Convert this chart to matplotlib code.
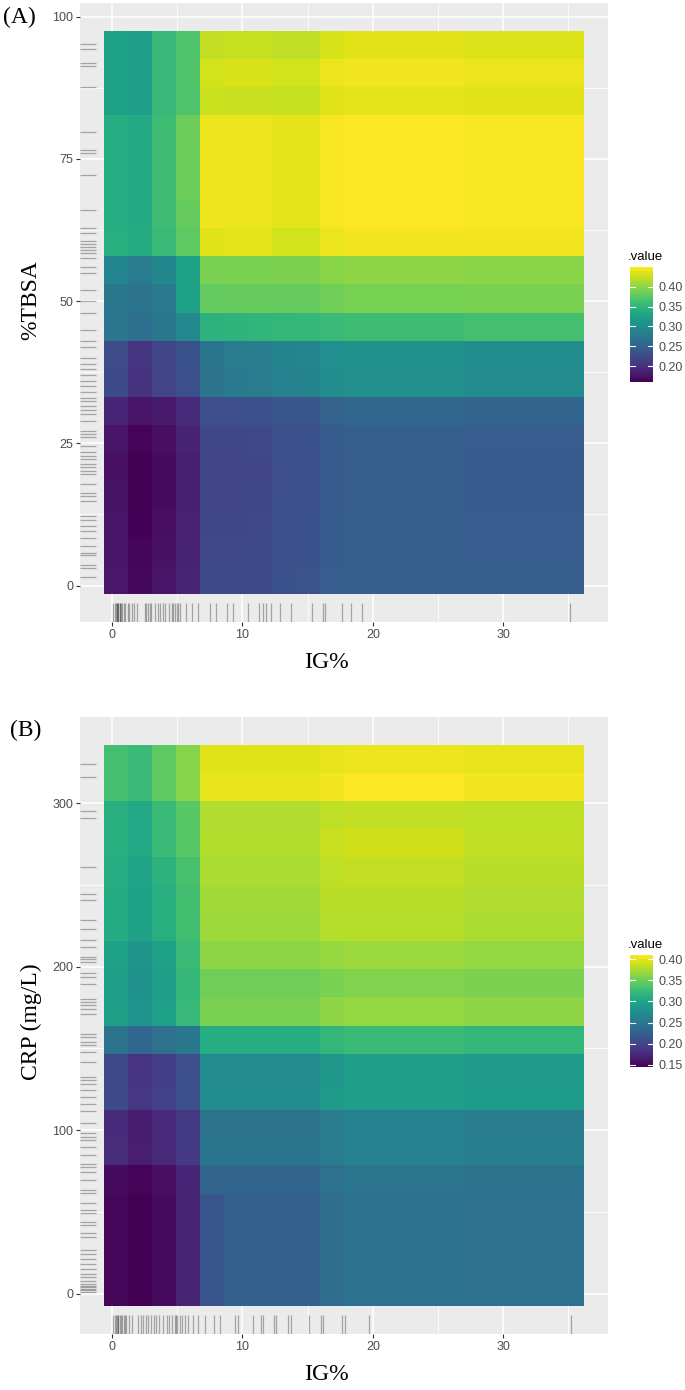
import numpy as np
import matplotlib
matplotlib.use("Agg")
import matplotlib.pyplot as plt
from matplotlib.colors import Normalize
import matplotlib.colorbar as mcolorbar

# ---------------- data ----------------
ig_grid = [0.31, 2.15, 3.99, 5.83, 7.67, 9.51, 11.35, 13.19, 15.03, 16.87,
           18.71, 20.55, 22.39, 24.23, 26.07, 27.91, 29.75, 31.59, 33.43, 35.27]
tbsa_grid = [1.0, 5.9, 10.9, 15.8, 20.8, 25.7, 30.7, 35.6, 40.6, 45.5,
             50.5, 55.4, 60.4, 65.3, 70.3, 75.2, 80.2, 85.1, 90.1, 95.0]
crp_grid = [1, 18, 35, 52, 70, 87, 104, 121, 138, 155,
            173, 190, 207, 224, 241, 258, 276, 293, 310, 327]

# partial dependence values, rows = tbsa_grid (bottom -> top), cols = ig_grid
value_A = [
    [0.177,0.166,0.175,0.189,0.224,0.224,0.225,0.232,0.233,0.244,0.247,0.247,0.247,0.247,0.247,0.245,0.245,0.245,0.245,0.245],
    [0.176,0.164,0.173,0.188,0.223,0.223,0.224,0.231,0.232,0.243,0.246,0.246,0.246,0.246,0.246,0.244,0.244,0.244,0.244,0.244],
    [0.175,0.162,0.171,0.187,0.222,0.222,0.223,0.231,0.232,0.243,0.246,0.246,0.246,0.246,0.246,0.244,0.244,0.244,0.244,0.244],
    [0.174,0.160,0.169,0.186,0.221,0.221,0.222,0.230,0.231,0.242,0.245,0.245,0.245,0.245,0.245,0.243,0.243,0.243,0.243,0.243],
    [0.172,0.160,0.168,0.186,0.220,0.220,0.221,0.230,0.231,0.242,0.245,0.245,0.245,0.245,0.245,0.243,0.243,0.243,0.243,0.243],
    [0.176,0.163,0.171,0.188,0.222,0.222,0.223,0.231,0.232,0.243,0.246,0.246,0.246,0.246,0.246,0.244,0.244,0.244,0.244,0.244],
    [0.190,0.175,0.180,0.195,0.230,0.230,0.231,0.236,0.238,0.250,0.256,0.256,0.256,0.256,0.256,0.253,0.253,0.253,0.253,0.253],
    [0.224,0.203,0.218,0.230,0.270,0.278,0.279,0.289,0.290,0.302,0.305,0.305,0.305,0.305,0.305,0.300,0.300,0.300,0.300,0.300],
    [0.226,0.205,0.219,0.232,0.272,0.279,0.280,0.290,0.291,0.303,0.306,0.306,0.306,0.306,0.306,0.301,0.301,0.301,0.301,0.301],
    [0.273,0.264,0.276,0.296,0.346,0.347,0.350,0.352,0.353,0.357,0.360,0.360,0.360,0.360,0.360,0.363,0.363,0.363,0.363,0.363],
    [0.276,0.270,0.278,0.325,0.380,0.381,0.381,0.382,0.382,0.386,0.390,0.390,0.390,0.390,0.390,0.392,0.392,0.392,0.392,0.392],
    [0.293,0.279,0.294,0.325,0.392,0.392,0.392,0.393,0.393,0.398,0.401,0.401,0.401,0.401,0.401,0.398,0.398,0.398,0.398,0.398],
    [0.343,0.337,0.357,0.378,0.436,0.438,0.438,0.430,0.430,0.441,0.445,0.445,0.445,0.445,0.445,0.445,0.445,0.445,0.445,0.445],
    [0.340,0.335,0.360,0.382,0.443,0.442,0.442,0.438,0.438,0.447,0.450,0.450,0.450,0.450,0.450,0.447,0.447,0.447,0.447,0.447],
    [0.340,0.335,0.360,0.385,0.443,0.442,0.442,0.438,0.438,0.447,0.450,0.450,0.450,0.450,0.450,0.447,0.447,0.447,0.447,0.447],
    [0.340,0.335,0.360,0.385,0.443,0.442,0.442,0.438,0.438,0.447,0.450,0.450,0.450,0.450,0.450,0.447,0.447,0.447,0.447,0.447],
    [0.340,0.335,0.360,0.385,0.442,0.442,0.442,0.438,0.438,0.447,0.450,0.450,0.450,0.450,0.450,0.447,0.447,0.447,0.447,0.447],
    [0.325,0.320,0.354,0.369,0.427,0.426,0.426,0.424,0.424,0.436,0.438,0.438,0.438,0.438,0.438,0.437,0.437,0.437,0.437,0.437],
    [0.325,0.320,0.354,0.370,0.430,0.432,0.432,0.430,0.430,0.441,0.444,0.444,0.444,0.444,0.444,0.441,0.441,0.441,0.441,0.441],
    [0.325,0.320,0.354,0.370,0.423,0.425,0.425,0.422,0.422,0.433,0.437,0.437,0.437,0.437,0.437,0.435,0.435,0.435,0.435,0.435],
]

# rows = crp_grid (bottom -> top), cols = ig_grid
value_B = [
    [0.150,0.145,0.153,0.171,0.214,0.225,0.225,0.225,0.225,0.238,0.245,0.245,0.245,0.245,0.245,0.243,0.243,0.243,0.243,0.243],
    [0.150,0.145,0.153,0.171,0.214,0.225,0.225,0.225,0.225,0.238,0.245,0.245,0.245,0.245,0.245,0.243,0.243,0.243,0.243,0.243],
    [0.150,0.145,0.153,0.171,0.214,0.225,0.225,0.225,0.225,0.238,0.245,0.245,0.245,0.245,0.245,0.243,0.243,0.243,0.243,0.243],
    [0.150,0.145,0.153,0.171,0.214,0.225,0.225,0.225,0.225,0.238,0.245,0.245,0.245,0.245,0.245,0.243,0.243,0.243,0.243,0.243],
    [0.153,0.148,0.155,0.172,0.230,0.230,0.230,0.230,0.230,0.243,0.248,0.248,0.248,0.248,0.248,0.246,0.246,0.246,0.246,0.246],
    [0.178,0.167,0.175,0.190,0.247,0.247,0.247,0.247,0.247,0.255,0.260,0.260,0.260,0.260,0.260,0.257,0.257,0.257,0.257,0.257],
    [0.177,0.166,0.174,0.190,0.246,0.246,0.246,0.246,0.246,0.254,0.259,0.259,0.259,0.259,0.259,0.256,0.256,0.256,0.256,0.256],
    [0.205,0.187,0.195,0.210,0.275,0.275,0.275,0.275,0.275,0.288,0.292,0.292,0.292,0.292,0.292,0.289,0.289,0.289,0.289,0.289],
    [0.203,0.185,0.193,0.209,0.272,0.272,0.272,0.272,0.272,0.286,0.291,0.291,0.291,0.291,0.291,0.288,0.288,0.288,0.288,0.288],
    [0.246,0.232,0.243,0.251,0.309,0.309,0.309,0.309,0.309,0.320,0.325,0.325,0.325,0.325,0.325,0.320,0.320,0.320,0.320,0.320],
    [0.294,0.282,0.295,0.323,0.357,0.357,0.357,0.357,0.357,0.365,0.367,0.367,0.367,0.367,0.367,0.365,0.365,0.365,0.365,0.365],
    [0.292,0.280,0.293,0.322,0.352,0.352,0.352,0.352,0.352,0.357,0.360,0.360,0.360,0.360,0.360,0.358,0.358,0.358,0.358,0.358],
    [0.296,0.283,0.296,0.325,0.365,0.365,0.365,0.365,0.365,0.368,0.370,0.370,0.370,0.370,0.370,0.367,0.367,0.367,0.367,0.367],
    [0.308,0.297,0.312,0.330,0.371,0.371,0.371,0.371,0.371,0.380,0.380,0.380,0.380,0.380,0.380,0.376,0.376,0.376,0.376,0.376],
    [0.308,0.297,0.312,0.330,0.373,0.373,0.373,0.373,0.373,0.383,0.383,0.383,0.383,0.383,0.383,0.378,0.378,0.378,0.378,0.378],
    [0.310,0.299,0.315,0.333,0.376,0.376,0.376,0.376,0.376,0.384,0.386,0.386,0.386,0.386,0.386,0.383,0.383,0.383,0.383,0.383],
    [0.312,0.304,0.325,0.341,0.379,0.379,0.379,0.379,0.379,0.388,0.391,0.391,0.391,0.391,0.391,0.385,0.385,0.385,0.385,0.385],
    [0.312,0.304,0.325,0.341,0.378,0.378,0.378,0.378,0.378,0.384,0.386,0.386,0.386,0.386,0.386,0.384,0.384,0.384,0.384,0.384],
    [0.331,0.325,0.344,0.362,0.400,0.400,0.400,0.400,0.400,0.405,0.410,0.410,0.410,0.410,0.410,0.405,0.405,0.405,0.405,0.405],
    [0.331,0.325,0.344,0.362,0.397,0.397,0.397,0.397,0.397,0.400,0.402,0.402,0.402,0.402,0.402,0.400,0.400,0.400,0.400,0.400],
]

# rug (training data) values
ig_rug_A = [0.1,0.2,0.3,0.4,0.4,0.5,0.5,0.6,0.6,0.7,0.8,0.9,1.0,1.2,1.3,1.5,1.7,1.9,2.5,2.6,2.8,2.9,3.0,
            3.3,3.5,3.7,3.9,4.1,4.4,4.6,4.7,4.8,5.0,5.1,5.2,5.7,6.1,6.6,7.5,8.0,8.8,9.3,10.4,11.3,11.6,
            11.8,12.2,12.9,13.75,15.3,16.2,16.3,17.6,18.3,19.2,35.1]
tbsa_rug = [95.2,94.3,91.8,91.4,87.6,79.8,76.5,76.1,72.1,66.0,62.9,62.0,60.5,60.0,59.5,59.0,58.5,57.5,56.0,
            55.0,52.0,50.0,48.0,45.0,43.0,42.0,40.0,39.0,38.0,37.0,36.0,35.0,34.0,33.0,32.5,31.5,30.8,30.2,
            29.0,27.2,26.7,26.1,24.6,23.4,22.8,22.2,21.3,20.8,20.2,19.6,17.8,16.3,15.7,14.9,12.2,11.6,10.4,
            9.6,8.4,6.9,5.7,5.4,3.7,3.1,1.6]
ig_rug_B = [0.1,0.2,0.3,0.4,0.5,0.5,0.6,0.7,0.8,0.9,1.0,1.1,1.3,1.5,2.0,2.2,2.4,2.6,2.8,3.0,3.2,3.4,3.6,
            3.9,4.2,4.4,4.6,4.8,4.9,5.0,5.2,5.4,5.6,5.85,6.2,6.6,7.1,7.8,8.3,9.4,9.7,10.85,11.4,11.6,12.4,
            12.6,13.5,13.7,15.1,16.0,16.2,17.6,17.9,19.7,35.2]
crp_rug = [324,316,295,291,261,244.5,241,228.6,223,216,212,206,204.5,202.7,196,193.5,189.6,180.4,178.4,
           176.4,174.3,171.3,159,157,154,152,147.9,141.8,132.6,130.5,128.5,124.4,120.4,116.3,111.6,104.1,
           98,95.9,93.9,89.8,84.7,79.6,77.6,74.5,69.5,63.3,61.3,55.2,51.1,49.1,44,42,36.9,34.8,26.7,24,
           21,18,15,12,10,8,6,5,4,3,2,1]

x_ticks = [0, 10, 20, 30]
y_ticks_A = [0, 25, 50, 75, 100]
y_ticks_B = [0, 100, 200, 300]
cbar_ticks_A = [0.20, 0.25, 0.30, 0.35, 0.40]
cbar_ticks_B = [0.15, 0.20, 0.25, 0.30, 0.35, 0.40]

# ---------------- drawing ----------------
W, H = 685, 1390
fig = plt.figure(figsize=(W / 100, H / 100), dpi=100)
SERIF = "Liberation Serif"
SANS = "Liberation Sans"
cmap = plt.get_cmap("viridis")


def edges(c):
    c = np.asarray(c, float)
    mid = (c[1:] + c[:-1]) / 2
    return np.concatenate([[c[0] - (mid[0] - c[0])], mid, [c[-1] + (c[-1] - mid[-1])]])


def px_axes(l, t, r, b):
    return fig.add_axes([l / W, 1 - b / H, (r - l) / W, (b - t) / H])


def ftext(x, y, s, **kw):
    return fig.text(x / W, 1 - y / H, s, **kw)


def panel(ax, xg, yg, vals, xrug, yrug, yticks, norm):
    ax.set_facecolor("#EBEBEB")
    xe, ye = edges(xg), edges(yg)
    ax.pcolormesh(xe, ye, np.asarray(vals), cmap=cmap, norm=norm, shading="flat",
                  edgecolors="none", antialiased=False, zorder=2)
    xr = xe[-1] - xe[0]
    yr = ye[-1] - ye[0]
    ax.set_xlim(xe[0] - 0.05 * xr, xe[-1] + 0.05 * xr)
    ax.set_ylim(ye[0] - 0.05 * yr, ye[-1] + 0.05 * yr)
    ax.vlines(xrug, 0, 0.03, transform=ax.get_xaxis_transform(), colors="black",
              alpha=0.3, linewidth=0.9, zorder=3)
    ax.hlines(yrug, 0, 0.03, transform=ax.get_yaxis_transform(), colors="black",
              alpha=0.3, linewidth=0.9, zorder=3)
    ax.set_xticks(x_ticks)
    ax.set_yticks(yticks)
    ax.set_xticks([5, 15, 25, 35], minor=True)
    ymin = [(a + b) / 2 for a, b in zip(yticks[:-1], yticks[1:])]
    ax.set_yticks(ymin, minor=True)
    ax.grid(True, which="major", color="white", linewidth=1.1, zorder=0)
    ax.grid(True, which="minor", color="white", linewidth=0.55, zorder=0)
    ax.set_axisbelow(True)
    for s in ax.spines.values():
        s.set_visible(False)
    ax.tick_params(which="major", length=3, width=0.8, color="#333333",
                   labelcolor="#4D4D4D", labelsize=9, pad=2)
    ax.tick_params(which="minor", length=0)
    for lab in ax.get_xticklabels() + ax.get_yticklabels():
        lab.set_fontfamily(SANS)


def legend(l, t, r, b, norm, ticks):
    cax = px_axes(l, t, r, b)
    cb = mcolorbar.ColorbarBase(cax, cmap=cmap, norm=norm, orientation="vertical")
    cb.outline.set_visible(False)
    cb.set_ticks(ticks)
    cb.set_ticklabels([f"{v:.2f}" for v in ticks])
    cax.tick_params(length=0, pad=4, labelsize=9, labelcolor="#4D4D4D")
    for lab in cax.get_yticklabels():
        lab.set_fontfamily(SANS)
    for v in ticks:
        cax.plot([0, 0.2], [v, v], color="white", lw=0.8, transform=cax.get_yaxis_transform())
        cax.plot([0.8, 1.0], [v, v], color="white", lw=0.8, transform=cax.get_yaxis_transform())
    ftext(l - 2, t - 4, ".value", fontsize=9.5, family=SANS, color="black",
          ha="left", va="bottom")


# Panel A
normA = Normalize(vmin=0.16, vmax=0.45)
axA = px_axes(80, 3, 608, 622)
panel(axA, ig_grid, tbsa_grid, value_A, ig_rug_A, tbsa_rug, y_ticks_A, normA)
legend(630, 267, 653, 382, normA, cbar_ticks_A)
ftext(3, 17, "(A)", family=SERIF, fontsize=17, ha="left", va="center")
ftext(326, 662, "IG%", family=SERIF, fontsize=17, ha="center", va="center")
ftext(31, 300, "%TBSA", family=SERIF, fontsize=17, ha="center", va="center", rotation=90)

# Panel B
normB = Normalize(vmin=0.145, vmax=0.41)
axB = px_axes(80, 717, 608, 1334)
panel(axB, ig_grid, crp_grid, value_B, ig_rug_B, crp_rug, y_ticks_B, normB)
legend(630, 955, 653, 1067, normB, cbar_ticks_B)
ftext(10, 730, "(B)", family=SERIF, fontsize=17, ha="left", va="center")
ftext(326, 1375, "IG%", family=SERIF, fontsize=17, ha="center", va="center")
ftext(31, 1022, "CRP (mg/L)", family=SERIF, fontsize=17, ha="center", va="center", rotation=90)

fig.savefig("out.png", dpi=100)
